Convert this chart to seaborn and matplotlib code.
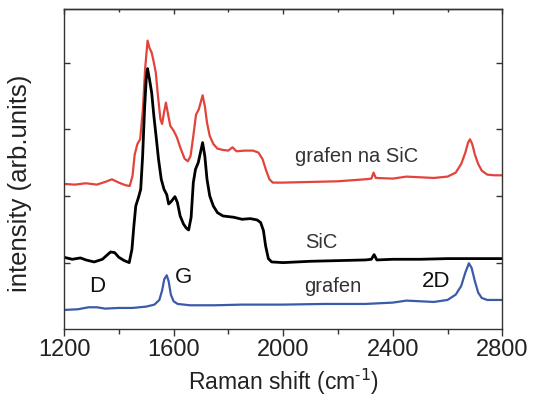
import matplotlib
matplotlib.use("Agg")
import matplotlib.pyplot as plt
import seaborn as sns
import pandas as pd

# ---- data ----
shift_red = [1200, 1240, 1280, 1320, 1350, 1375, 1400, 1425, 1440, 1450, 1458, 1468, 1478,
             1488, 1496, 1505, 1512, 1520, 1528, 1535, 1543, 1552, 1558, 1565, 1572, 1580,
             1588, 1600, 1612, 1625, 1640, 1652, 1662, 1672, 1682, 1692, 1700, 1706, 1714,
             1722, 1732, 1745, 1760, 1780, 1800, 1815, 1830, 1860, 1890, 1910, 1925, 1938,
             1950, 1962, 2000, 2100, 2200, 2300, 2322, 2330, 2338, 2400, 2450, 2500, 2550,
             2600, 2630, 2650, 2665, 2675, 2682, 2690, 2700, 2712, 2725, 2745, 2770, 2800]
int_red = [2.18, 2.17, 2.19, 2.17, 2.21, 2.25, 2.20, 2.16, 2.15, 2.30, 2.62, 2.78, 2.85,
           3.30, 3.90, 4.33, 4.22, 4.15, 4.00, 3.85, 3.50, 3.15, 3.08, 3.25, 3.40, 3.22,
           3.05, 2.98, 2.88, 2.72, 2.56, 2.52, 2.60, 2.90, 3.22, 3.30, 3.42, 3.51, 3.35,
           3.10, 2.90, 2.78, 2.71, 2.69, 2.68, 2.73, 2.67, 2.68, 2.68, 2.65, 2.55, 2.38,
           2.25, 2.20, 2.20, 2.21, 2.22, 2.25, 2.26, 2.35, 2.27, 2.26, 2.29, 2.28, 2.27,
           2.29, 2.35, 2.48, 2.65, 2.80, 2.85, 2.78, 2.62, 2.48, 2.38, 2.32, 2.31, 2.31]

shift_black = [1200, 1230, 1260, 1280, 1310, 1340, 1370, 1385, 1400, 1420, 1438, 1448, 1455,
               1462, 1472, 1480, 1487, 1494, 1500, 1505, 1512, 1520, 1528, 1536, 1545, 1555,
               1565, 1575, 1582, 1592, 1605, 1614, 1624, 1636, 1646, 1655, 1664, 1672, 1680,
               1690, 1698, 1706, 1714, 1722, 1732, 1745, 1760, 1780, 1800, 1820, 1850, 1880,
               1905, 1918, 1928, 1936, 1946, 1958, 2000, 2100, 2200, 2300, 2322, 2332, 2342,
               2400, 2500, 2600, 2700, 2800]
int_black = [1.08, 1.05, 1.07, 1.04, 1.01, 1.05, 1.16, 1.15, 1.08, 1.03, 1.00, 1.20, 1.55,
             1.85, 1.98, 2.10, 2.60, 3.30, 3.75, 3.91, 3.75, 3.55, 3.20, 2.90, 2.55, 2.25,
             2.10, 2.02, 1.88, 1.92, 1.99, 1.90, 1.70, 1.58, 1.52, 1.49, 1.68, 2.20, 2.40,
             2.50, 2.65, 2.80, 2.60, 2.25, 2.00, 1.85, 1.75, 1.70, 1.69, 1.68, 1.65, 1.66,
             1.64, 1.60, 1.48, 1.25, 1.06, 1.01, 1.00, 1.02, 1.03, 1.04, 1.05, 1.12, 1.04,
             1.05, 1.05, 1.06, 1.06, 1.06]

shift_blue = [1200, 1250, 1290, 1320, 1350, 1400, 1450, 1500, 1530, 1548, 1558, 1566, 1575,
              1582, 1590, 1600, 1615, 1660, 1750, 1850, 2000, 2150, 2300, 2400, 2450, 2500,
              2550, 2600, 2630, 2650, 2665, 2678, 2688, 2700, 2712, 2725, 2745, 2800]
int_blue = [0.29, 0.30, 0.33, 0.33, 0.31, 0.32, 0.32, 0.34, 0.37, 0.44, 0.58, 0.75, 0.81,
            0.72, 0.52, 0.42, 0.38, 0.36, 0.36, 0.37, 0.37, 0.38, 0.38, 0.40, 0.43, 0.42,
            0.41, 0.44, 0.52, 0.65, 0.85, 0.99, 0.92, 0.72, 0.55, 0.47, 0.44, 0.44]

x_major = [1200, 1600, 2000, 2400, 2800]
x_minor = [1400, 1800, 2200, 2600]
y_ticks = [1, 2, 3, 4]

series_labels = ["grafen na SiC", "SiC", "grafen"]
peak_labels = ["D", "G", "2D"]

# ---- plotting ----
sns.set_style("ticks")
plt.rcParams["font.family"] = ["Liberation Sans", "DejaVu Sans"]

fig = plt.figure(figsize=(5.33, 4.0), dpi=100)
ax = fig.add_axes([0.1201, 0.1768, 0.8223, 0.80])

sns.lineplot(x=shift_red, y=int_red, color="#e2433b", lw=1.6, ax=ax)
sns.lineplot(x=shift_black, y=int_black, color="#000000", lw=2.0, ax=ax)
sns.lineplot(x=shift_blue, y=int_blue, color="#3a5ba8", lw=1.6, ax=ax)

ax.set_xlim(1200, 2800)
ax.set_ylim(0, 4.8)
ax.set_xticks(x_major)
ax.set_xticks(x_minor, minor=True)
ax.set_yticks(y_ticks)
ax.set_yticklabels([])

spine_col = "#333333"
for s in ax.spines.values():
    s.set_visible(True)
    s.set_color(spine_col)
    s.set_linewidth(1.0)

ax.tick_params(axis="x", which="major", direction="out", bottom=True, top=False,
               length=5, width=1, color=spine_col, labelsize=17, pad=2, labelcolor="#222222")
ax.tick_params(axis="x", which="minor", direction="out", bottom=True, top=False,
               length=3.4, width=1, color=spine_col)
ax.tick_params(axis="y", which="major", direction="in", left=True, right=True,
               labelleft=False, length=4.5, width=1, color=spine_col)

sec = ax.secondary_xaxis("top")
sec.set_xticks(x_major)
sec.set_xticks(x_minor, minor=True)
sec.tick_params(axis="x", which="major", direction="in", length=3.5, width=1,
                color=spine_col, labeltop=False)
sec.tick_params(axis="x", which="minor", direction="in", length=2.2, width=1,
                color=spine_col, labeltop=False)
sec.spines["top"].set_color(spine_col)
sec.spines["top"].set_linewidth(1.0)

ax.set_xlabel("Raman shift (cm$^{\\mathregular{\u2010}1}$)", fontsize=16.5, color="#222222")
ax.xaxis.set_label_coords(0.5, -0.118)
ax.set_ylabel("intensity (arb.units)", fontsize=18.5, color="#222222")
ax.yaxis.set_label_coords(-0.072, 0.4556)

txt_col = "#333333"
ax.text(2043, 2.505, series_labels[0], fontsize=14.5, color=txt_col, ha="left", va="baseline")
ax.text(2080, 1.215, series_labels[1], fontsize=14.5, color=txt_col, ha="left", va="baseline")
ax.text(2076, 0.564, series_labels[2], fontsize=14.5, color=txt_col, ha="left", va="baseline")
ax.text(1292, 0.564, peak_labels[0], fontsize=16, color="#111111", ha="left", va="baseline")
ax.text(1605, 0.69, peak_labels[1], fontsize=16, color="#111111", ha="left", va="baseline")
ax.text(2506, 0.64, peak_labels[2], fontsize=16, color="#111111", ha="left", va="baseline")

fig.savefig("out.png", dpi=100)
